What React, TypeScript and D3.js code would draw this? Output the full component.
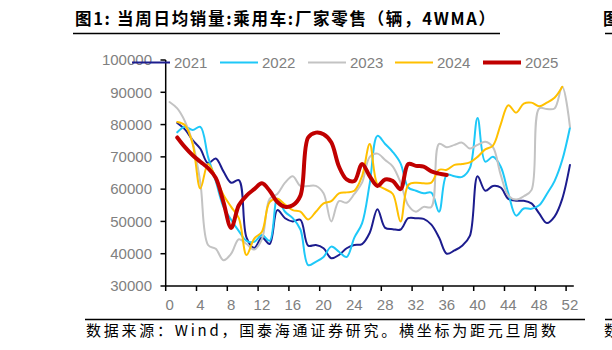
import React from "react";
import * as d3 from "d3";

const weeks = d3.range(0, 53);
const yTicks = [30000, 40000, 50000, 60000, 70000, 80000, 90000, 100000];
const xTickWeeks = d3.range(0, 53, 4);

// values start at week given by start index
const s2021 = [80500, 78500, 75200, 72500, 68000, 69500, 65500, 62000, 62800, 45000, 41800, 45000, 43000, 53500, 51000, 50000, 50500, 42500, 42700, 41700, 38600, 39600, 41700, 42700, 43000, 46500, 53800, 48000, 47600, 47500, 51000, 51000, 50800, 49000, 45000, 40000, 41000, 42500, 45500, 64000, 59500, 61000, 60500, 57000, 56400, 56400, 55600, 52500, 49500, 51500, 57000, 67500];
const s2022 = [77600, 79300, 78300, 79300, 70000, 62500, 54500, 50500, 47000, 44000, 43700, 45800, 44000, 57000, 53000, 51000, 47500, 36500, 37500, 39000, 42200, 40600, 39000, 45000, 49400, 61800, 76500, 74000, 71500, 68000, 60500, 59500, 58700, 58900, 53000, 64400, 64000, 63800, 66500, 82000, 68500, 70000, 67000, 58700, 51800, 54000, 53900, 55000, 58500, 62500, 69000, 79000];
const s2023 = [87000, 85000, 81000, 74500, 62000, 42700, 41500, 38000, 40000, 44500, 43000, 41300, 44500, 57000, 58500, 62000, 64000, 61000, 61000, 61000, 58700, 50000, 56300, 55800, 58500, 62000, 70000, 71000, 69000, 67000, 62000, 55000, 53000, 54500, 54500, 74000, 73000, 73700, 74400, 72600, 73700, 74700, 73000, 64500, 58000, 56800, 57800, 59700, 85000, 84800, 85000, 91700, 79300];
const s2024 = [80800, 79800, 74000, 60200, 67800, 63500, 58200, 54500, 51000, 39600, 44700, 46800, 56000, 57000, 55200, 53500, 53000, 50600, 53000, 55600, 56300, 58700, 59000, 59500, 64000, 74000, 61500, 60000, 58500, 50000, 61300, 62000, 61800, 62000, 66000, 66000, 67500, 67800, 68300, 70000, 72300, 73500, 80000, 86000, 83700, 86500, 86800, 85700, 86800, 88300, 91700];
const s2025 = [76000, 73000, 70500, 68500, 66500, 63500, 56000, 48000, 55000, 58000, 60000, 61800, 59500, 56000, 54500, 55000, 58000, 76000, 77500, 77000, 74500, 67000, 63000, 62500, 67800, 64000, 61000, 63000, 62500, 60000, 67800, 67200, 67000, 65500, 64800, 64400];

const seriesNames = ["2021", "2022", "2023", "2024", "2025"];
const seriesData = [s2021, s2022, s2023, s2024, s2025];
const seriesStart = [1, 1, 0, 1, 1];
const seriesColors = ["#1c1c8e", "#1ec8f8", "#c3c3c3", "#ffc000", "#c00000"];
const seriesWidths = [2, 2, 2, 2, 4];
const legendX = [132, 220, 308, 395, 483];

const title = "图1:  当周日均销量:乘用车:厂家零售（辆，4WMA）";
const footer = "数据来源：Wind，国泰海通证券研究。横坐标为距元旦周数";

export default function App() {
  const x = d3.scaleBand<number>().domain(weeks).range([165.7, 573.8]).padding(0);
  const bw = x.bandwidth();
  const cx = (w: number) => (x(w) as number) + bw / 2;
  const y = d3.scaleLinear().domain([30000, 100000]).range([286, 60]);
  const line = d3
    .line<[number, number]>()
    .x((d) => cx(d[0]))
    .y((d) => y(d[1]))
    .curve(d3.curveCatmullRom.alpha(0.5));

  const labelFont = "Liberation Sans, Arial, sans-serif";
  const gray = "#808080";

  return (
    <svg width={612} height={350} style={{ position: "absolute", left: 0, top: 0, background: "#fff" }}>
      {/* title */}
      <text x={75} y={25} fontFamily="'Noto Sans CJK SC', sans-serif" fontWeight="bold" fontSize={16.5} fill="#000" textLength={420} lengthAdjust="spacing">
        {title}
      </text>
      <line x1={73} x2={500} y1={33.5} y2={33.5} stroke="#000" strokeWidth={1.5} />
      <text x={603} y={25} fontFamily="'Noto Sans CJK SC', sans-serif" fontWeight="bold" fontSize={16.5} fill="#000">图</text>
      <line x1={605} x2={612} y1={33.5} y2={33.5} stroke="#000" strokeWidth={1.5} />

      {/* y axis */}
      <line x1={165.7} x2={165.7} y1={y(100000)} y2={y(30000)} stroke="#000" strokeWidth={1.5} />
      {yTicks.map((t) => (
        <g key={t}>
          <line x1={160.5} x2={165.7} y1={y(t)} y2={y(t)} stroke="#000" strokeWidth={1.5} />
          <text x={152} y={y(t)} dy="0.35em" textAnchor="end" fontFamily={labelFont} fontSize={15} fill={gray}>
            {t}
          </text>
        </g>
      ))}
      {/* x axis */}
      <line x1={165} x2={573.8} y1={y(30000)} y2={y(30000)} stroke="#000" strokeWidth={1.5} />
      {xTickWeeks.map((w) => (
        <g key={w}>
          <line x1={x(w) as number} x2={x(w) as number} y1={286} y2={291} stroke="#000" strokeWidth={1.5} />
          <text x={cx(w)} y={310} textAnchor="middle" fontFamily={labelFont} fontSize={15} fill={gray}>
            {w}
          </text>
        </g>
      ))}

      {/* series */}
      {seriesData.map((arr, i) => {
        const pts: [number, number][] = arr.map((v, k) => [seriesStart[i] + k, v]);
        return (
          <path key={seriesNames[i]} d={line(pts) || ""} fill="none" stroke={seriesColors[i]} strokeWidth={seriesWidths[i]} strokeLinejoin="round" strokeLinecap="round" />
        );
      })}

      {/* legend */}
      {seriesNames.map((n, i) => (
        <g key={n}>
          <line x1={legendX[i]} x2={legendX[i] + 38} y1={62.5} y2={62.5} stroke={seriesColors[i]} strokeWidth={seriesWidths[i]} />
          <text x={legendX[i] + 42} y={68} fontFamily={labelFont} fontSize={15} fill={gray}>
            {n}
          </text>
        </g>
      ))}

      {/* footer */}
      <line x1={85} x2={585} y1={319.5} y2={319.5} stroke="#000" strokeWidth={1.5} />
      <line x1={605} x2={612} y1={319.5} y2={319.5} stroke="#000" strokeWidth={1.5} />
      <text x={86} y={336} fontFamily="'Noto Sans CJK SC', serif" fontSize={15} fill="#000" textLength={470} lengthAdjust="spacing">
        {footer}
      </text>
      <text x={604} y={336} fontFamily="'Noto Sans CJK SC', serif" fontSize={15} fill="#000">数</text>
    </svg>
  );
}
